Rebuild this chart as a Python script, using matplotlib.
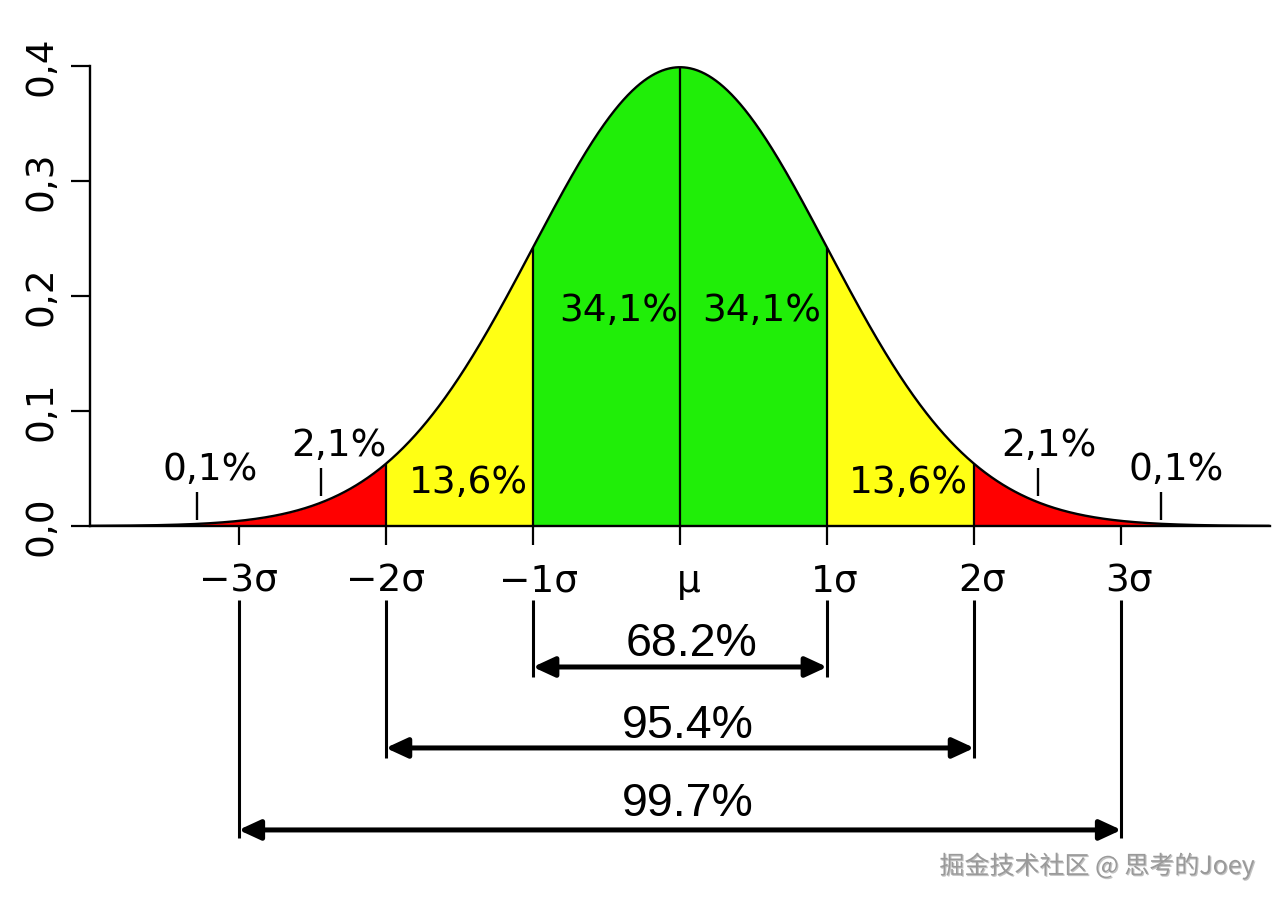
import numpy as np
import matplotlib
matplotlib.use("Agg")
import matplotlib.pyplot as plt
import matplotlib.patheffects as pe
from matplotlib.transforms import ScaledTranslation

# standard normal, the bands are in sigma units
MU = 0.0
SIGMA = 1.0

band_edges = [-4, -2, -1, 0, 1, 2, 4]
band_colors = ["#ff0000", "#ffff14", "#20ee08", "#20ee08", "#ffff14", "#ff0000"]
divider_x = [-2, -1, 0, 1, 2]

xtick_pos = [-3, -2, -1, 0, 1, 2, 3]
xtick_labels = ["\u22123\u03c3", "\u22122\u03c3", "\u22121\u03c3", "\u03bc", "1\u03c3", "2\u03c3", "3\u03c3"]
xtick_shift_px = [0, 0, 6, 9, 8, 8, 8]
ytick_pos = [0.0, 0.1, 0.2, 0.3, 0.4]
ytick_labels = ["0,0", "0,1", "0,2", "0,3", "0,4"]

# area labels on the curve
area_text = ["34,1%", "34,1%", "13,6%", "13,6%", "2,1%", "2,1%", "0,1%", "0,1%"]
area_x = [-0.42, 0.557, -1.44, 1.55, -2.32, 2.51, -3.19, 3.37]
area_y = [0.187, 0.187, 0.0374, 0.0374, 0.0696, 0.0696, 0.0487, 0.0487]

# little pointer marks under the tail labels
mark_x = [-2.44, -3.28, 2.43, 3.27]
mark_y0 = [0.0261, 0.0052, 0.0261, 0.0052]
mark_y1 = [0.0504, 0.0296, 0.0504, 0.0296]

# range arrows below the axis
range_k = [1, 2, 3]
range_text = ["68.2%", "95.4%", "99.7%"]
range_arrow_y = [-0.1226, -0.193, -0.2643]
range_bar_bottom = [-0.1313, -0.2017, -0.2713]
range_text_x = [0.08, 0.054, 0.054]
range_text_y = [-0.1025, -0.174, -0.242]
bar_top = -0.0643

x = np.linspace(-4, 4, 1601)
pdf = np.exp(-0.5 * ((x - MU) / SIGMA) ** 2) / (SIGMA * np.sqrt(2 * np.pi))


def npdf(v):
    return np.exp(-0.5 * ((v - MU) / SIGMA) ** 2) / (SIGMA * np.sqrt(2 * np.pi))


fig = plt.figure(figsize=(12.8, 9.06), dpi=100)
ax = fig.add_axes([90 / 1280, 380 / 906, 1180 / 1280, 460 / 906])

for lo, hi, c in zip(band_edges[:-1], band_edges[1:], band_colors):
    m = (x >= lo) & (x <= hi)
    ax.fill_between(x[m], 0, pdf[m], color=c, linewidth=0)

ax.plot(x, pdf, color="black", linewidth=1.7, zorder=3)
ax.vlines(divider_x, 0, npdf(np.array(divider_x)), color="black", linewidth=1.6, zorder=3)
ax.vlines(mark_x, mark_y0, mark_y1, color="black", linewidth=1.7)

for t, tx, ty in zip(area_text, area_x, area_y):
    ax.text(tx, ty, t, ha="center", va="center", fontsize=27, family="DejaVu Sans")

ax.set_xlim(-4.01, 4.01)
ax.set_ylim(0, 0.4)
ax.spines["top"].set_visible(False)
ax.spines["right"].set_visible(False)
for s in ("left", "bottom"):
    ax.spines[s].set_linewidth(1.7)

ax.set_xticks(xtick_pos)
ax.set_xticklabels(xtick_labels, fontsize=27)
ax.set_yticks(ytick_pos)
ax.set_yticklabels(ytick_labels, fontsize=27, rotation=90, va="center")
ax.tick_params(axis="x", length=14, width=1.6, pad=13)
ax.tick_params(axis="y", length=14, width=1.6, pad=8)

for lab, dx in zip(ax.get_xticklabels(), xtick_shift_px):
    lab.set_transform(lab.get_transform() + ScaledTranslation(dx / 100, 0, fig.dpi_scale_trans))

# range brackets
for k, t, ay, yb, tx, ty in zip(range_k, range_text, range_arrow_y,
                                range_bar_bottom, range_text_x, range_text_y):
    ax.vlines([-k, k], yb, bar_top, color="black", linewidth=2.2, clip_on=False)
    ax.annotate("", xy=(k, ay), xytext=(-k, ay), annotation_clip=False,
                arrowprops=dict(arrowstyle="<|-|>,head_length=0.65,head_width=0.3",
                                color="black", linewidth=3.6, mutation_scale=20,
                                shrinkA=0, shrinkB=0))
    ax.text(tx, ty, t, ha="center", va="center", fontsize=33.5,
            family="Liberation Sans", clip_on=False)

fig.text(1097 / 1280, 1 - 866 / 906, "掘金技术社区 @ 思考的Joey",
         ha="center", va="center", fontsize=18, color="#9a9a9a", fontweight="normal",
         family=["Noto Sans CJK SC", "DejaVu Sans"],
         path_effects=[pe.withSimplePatchShadow(offset=(0.8, -0.8), shadow_rgbFace="#555555", alpha=0.35)])

fig.savefig("out.png", dpi=100)
